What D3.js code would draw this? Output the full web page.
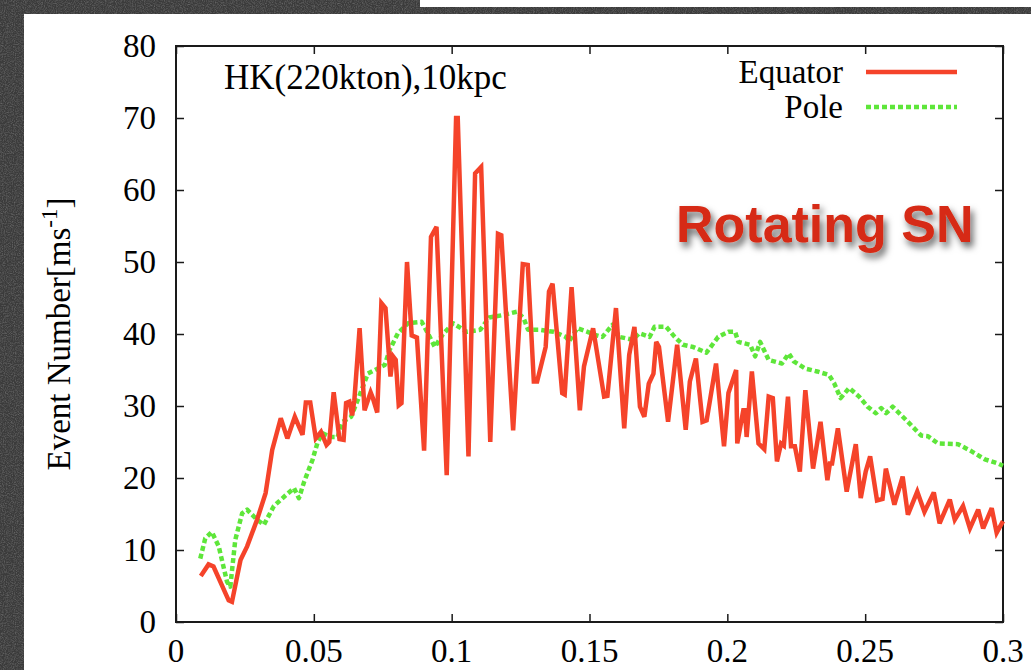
<!DOCTYPE html>
<html><head><meta charset="utf-8">
<script src="https://cdn.jsdelivr.net/npm/d3@7"></script>
<style>
html,body{margin:0;padding:0;background:#3a3a3a;overflow:hidden;}
svg{display:block;}
</style></head>
<body>
<svg id="chart" width="1031" height="670"></svg>
<script>
// ---- data ----
const equatorTime = [0.0090,0.0118,0.0136,0.0191,0.0203,0.0234,0.0258,0.0294,0.0325,0.0349,0.0380,0.0404,0.0431,0.0459,0.0471,0.0487,0.0507,0.0526,0.0546,0.0556,0.0572,0.0593,0.0608,0.0617,0.0629,0.0639,0.0647,0.0666,0.0684,0.0706,0.0714,0.0730,0.0745,0.0760,0.0778,0.0787,0.0797,0.0808,0.0818,0.0838,0.0855,0.0874,0.0900,0.0925,0.0945,0.0982,0.1016,0.1022,0.1061,0.1085,0.1107,0.1140,0.1168,0.1180,0.1223,0.1258,0.1276,0.1298,0.1310,0.1341,0.1353,0.1366,0.1401,0.1410,0.1435,0.1465,0.1480,0.1513,0.1553,0.1565,0.1596,0.1626,0.1644,0.1663,0.1683,0.1699,0.1715,0.1732,0.1742,0.1752,0.1785,0.1818,0.1849,0.1864,0.1886,0.1910,0.1925,0.1959,0.1988,0.2004,0.2032,0.2036,0.2058,0.2064,0.2070,0.2089,0.2113,0.2134,0.2150,0.2165,0.2180,0.2195,0.2205,0.2220,0.2231,0.2245,0.2263,0.2283,0.2311,0.2338,0.2363,0.2372,0.2380,0.2401,0.2433,0.2466,0.2484,0.2502,0.2518,0.2543,0.2563,0.2575,0.2606,0.2636,0.2655,0.2689,0.2715,0.2749,0.2770,0.2807,0.2825,0.2855,0.2880,0.2910,0.2928,0.2959,0.2977,0.3000];
const equatorValue = [6.4,8.0,7.7,3.0,2.8,8.6,10.5,14.2,17.9,23.9,28.3,25.5,28.5,26.0,30.5,30.5,25.5,26.4,24.6,25.0,31.9,25.4,25.3,30.4,30.6,28.7,30.8,40.8,29.4,31.9,31.1,29.1,44.3,43.6,34.1,36.9,36.4,30.1,30.4,50.0,39.8,39.5,23.8,53.5,54.9,20.4,70.0,70.0,23.0,62.3,63.2,25.0,53.9,53.7,26.6,49.7,49.6,33.4,33.4,38.2,45.9,47.0,31.8,31.6,46.5,29.4,35.5,40.8,31.3,31.4,43.6,26.9,37.1,41.0,29.9,28.5,33.1,34.5,38.9,38.2,27.8,38.5,26.7,33.4,36.6,27.8,28.0,35.9,24.4,31.8,35.0,24.8,29.4,29.4,25.7,34.8,24.8,24.0,31.3,31.1,22.3,24.8,24.5,31.3,24.4,24.4,20.9,32.2,21.3,27.8,19.7,22.0,22.0,26.9,18.1,24.7,17.2,20.9,23.0,16.9,17.1,21.3,16.3,20.2,14.9,18.1,15.3,18.0,13.7,17.0,14.2,16.1,13.0,15.6,13.0,15.8,12.4,14.0];

const poleTime = [0.0088,0.0106,0.0130,0.0155,0.0185,0.0197,0.0215,0.0240,0.0258,0.0294,0.0319,0.0355,0.0398,0.0428,0.0446,0.0465,0.0495,0.0514,0.0532,0.0562,0.0586,0.0605,0.0635,0.0659,0.0696,0.0757,0.0775,0.0805,0.0842,0.0891,0.0915,0.0939,0.0967,0.1005,0.1055,0.1104,0.1136,0.1182,0.1237,0.1261,0.1277,0.1316,0.1371,0.1414,0.1426,0.1456,0.1493,0.1517,0.1547,0.1584,0.1608,0.1657,0.1681,0.1718,0.1736,0.1778,0.1809,0.1839,0.1876,0.1924,0.1967,0.2004,0.2028,0.2040,0.2083,0.2101,0.2119,0.2150,0.2198,0.2223,0.2241,0.2283,0.2326,0.2369,0.2387,0.2411,0.2442,0.2478,0.2509,0.2539,0.2558,0.2576,0.2600,0.2655,0.2703,0.2728,0.2764,0.2837,0.2886,0.2934,0.2983,0.3000];
const poleValue = [8.8,11.6,12.5,10.5,5.6,4.9,11.4,15.1,15.6,14.2,13.5,16.1,17.6,18.6,17.2,19.5,22.5,25.0,26.2,25.7,25.7,27.8,28.5,30.8,34.5,35.7,37.8,40.1,41.5,41.7,40.0,38.2,39.9,41.5,40.3,40.6,42.3,42.6,43.1,42.2,40.6,40.6,40.3,39.6,39.0,40.8,40.3,39.9,39.6,41.3,39.6,39.2,40.1,39.6,41.0,41.0,39.6,38.5,38.2,37.4,39.6,40.3,40.3,38.9,38.5,36.9,38.9,36.4,35.9,37.3,36.2,35.2,34.8,34.3,33.2,31.1,32.5,31.3,29.9,29.0,29.7,29.0,29.9,27.8,25.9,25.8,24.8,24.7,23.7,22.6,22.0,21.7];

const xTicks = [0, 0.05, 0.1, 0.15, 0.2, 0.25, 0.3];
const xTickLabels = ["0","0.05","0.1","0.15","0.2","0.25","0.3"];
const yTicks = [0,10,20,30,40,50,60,70,80];
const seriesNames = ["Equator","Pole"];
const titleText = "HK(220kton),10kpc";
const annotationText = "Rotating SN";

// ---- drawing ----
(function(){
const svg = d3.select("#chart");
const W = 1031, H = 670;
const defs = svg.append("defs");

const tex = defs.append("filter").attr("id","tex").attr("x",0).attr("y",0).attr("width","100%").attr("height","100%");
tex.append("feTurbulence").attr("type","fractalNoise").attr("baseFrequency",0.9).attr("numOctaves",2).attr("seed",3).attr("result","n");
tex.append("feColorMatrix").attr("in","n").attr("type","matrix")
  .attr("values","0 0 0 0 0.2  0 0 0 0 0.2  0 0 0 0 0.2  0.6 0.6 0.6 0 -0.8").attr("result","c");
tex.append("feComposite").attr("in","c").attr("in2","SourceGraphic").attr("operator","over");

const shadow = defs.append("filter").attr("id","shadow").attr("x","-10%").attr("y","-30%").attr("width","130%").attr("height","180%");
shadow.append("feDropShadow").attr("dx",3).attr("dy",5).attr("stdDeviation",3.5).attr("flood-color","#000").attr("flood-opacity",0.6);

svg.append("rect").attr("width",W).attr("height",H).attr("fill","#3a3a3a").attr("filter","url(#tex)");
svg.append("rect").attr("x",420).attr("y",0).attr("width",W-420).attr("height",7).attr("fill","#ffffff");
svg.append("rect").attr("x",24).attr("y",14).attr("width",W-24).attr("height",H-14).attr("fill","#ffffff");

const pL = 176, pR = 1003, pT = 46, pB = 622;
const x = d3.scaleLinear().domain([0,0.3]).range([pL,pR]);
const y = d3.scaleLinear().domain([0,80]).range([pB,pT]);

const serif = "'Liberation Serif','Times New Roman',serif";
const tickLen = 8;

const g = svg.append("g");
g.append("rect").attr("x",pL).attr("y",pT).attr("width",pR-pL).attr("height",pB-pT)
  .attr("fill","none").attr("stroke","#1a1a1a").attr("stroke-width",2);

const axB = d3.axisBottom(x).tickValues(xTicks).tickSize(-tickLen).tickFormat("");
const axT = d3.axisTop(x).tickValues(xTicks).tickSize(-tickLen).tickFormat("");
const axL = d3.axisLeft(y).tickValues(yTicks).tickSize(-tickLen).tickFormat("");
const axR = d3.axisRight(y).tickValues(yTicks).tickSize(-tickLen).tickFormat("");
[[axB,`translate(0,${pB})`],[axT,`translate(0,${pT})`],[axL,`translate(${pL},0)`],[axR,`translate(${pR},0)`]].forEach(([ax,tr])=>{
  const a = g.append("g").attr("transform",tr).call(ax);
  a.select(".domain").remove();
  a.selectAll(".tick line").attr("stroke","#1a1a1a").attr("stroke-width",1.5);
});

g.selectAll(".xl").data(xTicks).join("text").attr("class","xl")
  .attr("x",(d)=>x(d)).attr("y",662).attr("text-anchor","middle")
  .attr("font-family",serif).attr("font-size",33).attr("fill","#000")
  .text((d,i)=>xTickLabels[i]);
g.selectAll(".yl").data(yTicks).join("text").attr("class","yl")
  .attr("x",156).attr("y",(d)=>y(d)+11).attr("text-anchor","end")
  .attr("font-family",serif).attr("font-size",33).attr("fill","#000")
  .text((d)=>d);

const yl = g.append("text").attr("transform",`translate(70,${(pT+pB)/2}) rotate(-90)`)
  .attr("text-anchor","middle").attr("font-family",serif).attr("font-size",33).attr("fill","#000");
yl.append("tspan").text("Event Number[ms");
yl.append("tspan").attr("dy",-13).attr("font-size",23).text("-1");
yl.append("tspan").attr("dy",13).text("]");

g.append("text").attr("x",224).attr("y",89).attr("font-family",serif).attr("font-size",35).attr("fill","#000").text(titleText);

const equator = equatorTime.map((t,i)=>[t,equatorValue[i]]);
const pole = poleTime.map((t,i)=>[t,poleValue[i]]);
const line = d3.line().x(d=>x(d[0])).y(d=>y(d[1]));
const eqColor = "#f5432a", poleColor = "#5ee63a";

g.append("path").datum(pole).attr("d",line).attr("fill","none").attr("stroke",poleColor)
  .attr("stroke-width",4.5).attr("stroke-dasharray","5,3").attr("stroke-linejoin","round");
g.append("path").datum(equator).attr("d",line).attr("fill","none").attr("stroke",eqColor)
  .attr("stroke-width",4.5).attr("stroke-linejoin","miter").attr("stroke-miterlimit",3);

const legY = [72, 107];
const legColors = [eqColor, poleColor];
seriesNames.forEach((name,i)=>{
  g.append("text").attr("x",843).attr("y",legY[i]+11).attr("text-anchor","end")
    .attr("font-family",serif).attr("font-size",33).attr("fill","#000").text(name);
  const l = g.append("line").attr("x1",866).attr("x2",957).attr("y1",legY[i]).attr("y2",legY[i])
    .attr("stroke",legColors[i]).attr("stroke-width",4.5);
  if(i===1) l.attr("stroke-dasharray","5,3");
});

g.append("text").attr("x",676).attr("y",242).attr("font-family","'Liberation Sans',Arial,sans-serif")
  .attr("font-weight","bold").attr("font-size",52).attr("fill","#d62a12").attr("filter","url(#shadow)")
  .text(annotationText);
})();
</script>
</body></html>
